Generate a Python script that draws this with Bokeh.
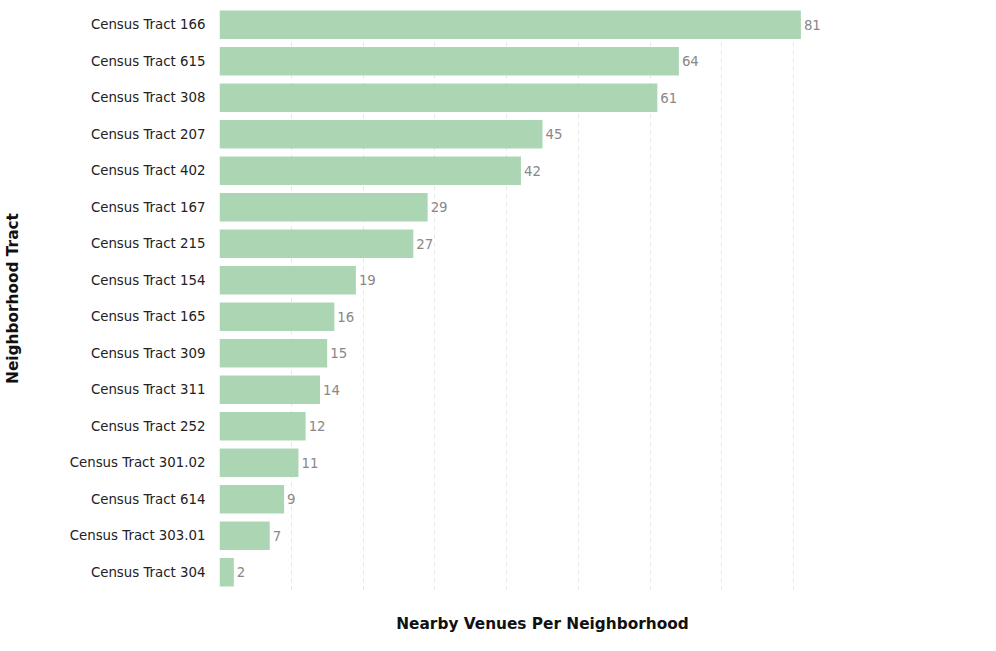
from bokeh.plotting import figure
from bokeh.models import ColumnDataSource, LabelSet
from bokeh.core.properties import value
from bokeh.embed import file_html
from bokeh.resources import INLINE

tracts = ["Census Tract 166", "Census Tract 615", "Census Tract 308", "Census Tract 207",
          "Census Tract 402", "Census Tract 167", "Census Tract 215", "Census Tract 154",
          "Census Tract 165", "Census Tract 309", "Census Tract 311", "Census Tract 252",
          "Census Tract 301.02", "Census Tract 614", "Census Tract 303.01", "Census Tract 304"]
venues = [81, 64, 61, 45, 42, 29, 27, 19, 16, 15, 14, 12, 11, 9, 7, 2]

src = ColumnDataSource(dict(tract=tracts, venues=venues, label=[str(v) for v in venues]))

p = figure(y_range=list(reversed(tracts)), x_range=(0, 90), width=980, height=635,
           output_backend="svg", toolbar_location=None,
           min_border_left=0, min_border_right=115, min_border_top=6, min_border_bottom=40)
p.hbar(y="tract", right="venues", height=0.78, source=src,
       fill_color="#a3d1ab", fill_alpha=0.9, line_color=None)
p.add_layout(LabelSet(x="venues", y="tract", text="label", source=src, x_offset=3,
                      text_baseline="middle", text_color="#888888",
                      text_font_size="10pt", text_font=value("DejaVu Sans")))

p.outline_line_color = None
p.ygrid.grid_line_color = None
p.xgrid.grid_line_color = "#e6e6e6"
p.xgrid.grid_line_dash = "4 4"
p.xaxis.ticker = list(range(0, 91, 10))
p.xaxis.major_label_text_font_size = "0pt"
p.axis.axis_line_color = None
p.axis.major_tick_line_color = None
p.axis.minor_tick_line_color = None
p.yaxis.major_label_text_font_size = "10pt"
p.yaxis.major_label_text_font = "DejaVu Sans"
p.yaxis.major_label_text_color = "#222222"
p.xaxis.axis_label = "Nearby Venues Per Neighborhood"
p.yaxis.axis_label = "Neighborhood Tract"
for ax in (p.xaxis, p.yaxis):
    ax.axis_label_text_font = "DejaVu Sans"
    ax.axis_label_text_font_style = "bold"
    ax.axis_label_text_font_size = "11.5pt"
    ax.axis_label_text_color = "#111111"
p.yaxis.axis_label_standoff = 45
p.yaxis.major_label_standoff = 8
p.xaxis.axis_label_standoff = 18

open("out.html", "w").write(file_html(p, INLINE))
